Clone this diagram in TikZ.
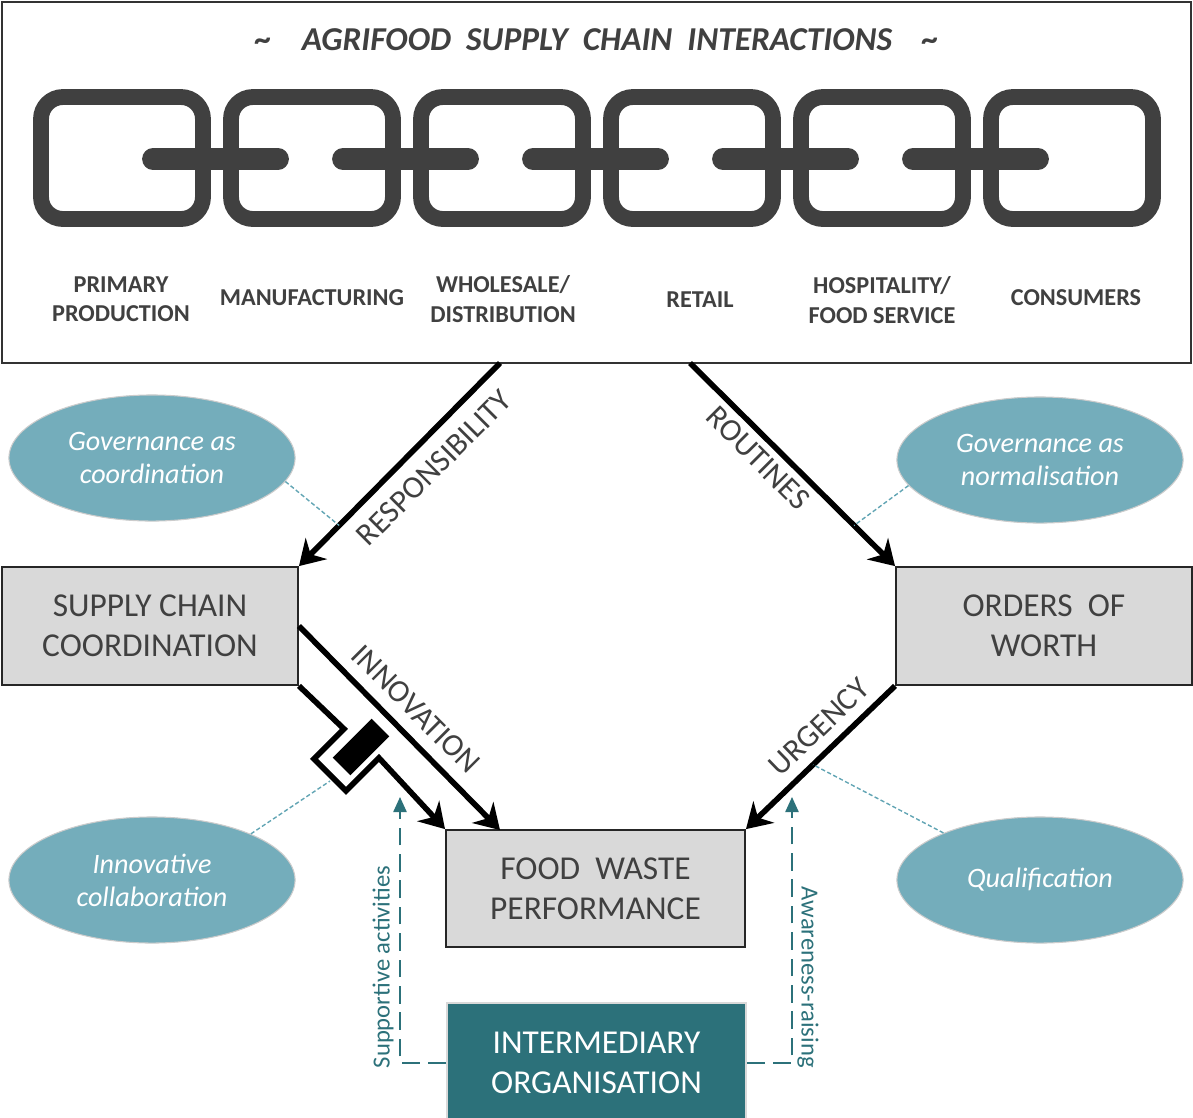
\documentclass[tikz,border=0pt]{standalone}
\usepackage{fontspec}
\setmainfont{Carlito}
\definecolor{chaingray}{RGB}{64,64,64}
\definecolor{boxgray}{RGB}{217,217,217}
\definecolor{ovalblue}{RGB}{116,173,187}
\definecolor{tealdark}{RGB}{44,113,122}
\definecolor{teallight}{RGB}{98,165,180}
\usetikzlibrary{arrows.meta,positioning,shapes.geometric,calc}

\begin{document}
\begin{tikzpicture}[
  x=0.01cm, y=-0.01cm,
  every node/.style={text=chaingray},
  chainlink/.style={draw=chaingray,line width=4.5pt,rounded corners=0.22cm},
  chainbar/.style={draw=chaingray,line width=6.2pt,line cap=round},
  stagelabel/.style={font=\fontsize{6.9}{8.3}\selectfont\bfseries,align=center},
  statebox/.style={draw=black!85,line width=0.5pt,fill=boxgray,minimum width=2.96cm,
                   minimum height=1.18cm,align=center,font=\fontsize{9.5}{11.4}\selectfont},
  lensoval/.style={ellipse,draw=black!20,line width=0.3pt,fill=ovalblue,minimum width=2.86cm,
                   minimum height=1.26cm,align=center,text=white,font=\fontsize{8}{9.4}\selectfont\itshape},
  flow/.style={line width=1.6pt,-{Stealth[length=7pt,width=8.5pt]}},
  flowlabel/.style={font=\fontsize{9}{11}\selectfont},
  leader/.style={teallight,line width=0.4pt,dash pattern=on 1.2pt off 0.7pt},
  support/.style={tealdark,line width=0.45pt,dash pattern=on 5pt off 2.5pt,
                  -{Triangle[length=4.3pt,width=3.8pt]}},
  supportlabel/.style={text=tealdark,font=\fontsize{7}{8}\selectfont},
]
  \useasboundingbox (0,0) rectangle (1193,1117);

  % Supply chain
  \node[draw=black!80,line width=0.5pt,minimum width=11.89cm,minimum height=3.61cm] (chainbox) at (596.5,182.5) {};
  \node[font=\fontsize{9.5}{12}\selectfont\bfseries\itshape] (title) at (597,40)
    {\textasciitilde\hspace{0.9em}AGRIFOOD\ \ SUPPLY\ \ CHAIN\ \ INTERACTIONS\hspace{0.9em}\textasciitilde};
  \foreach \i in {0,...,5}
    \draw[chainlink] ({41+190*\i},97) rectangle ({203+190*\i},219);
  \foreach \i in {0,...,4}
    \draw[chainbar] ({153+190*\i},159) -- ({278+190*\i},159);

  \node[stagelabel] (primary) at (121,299) {PRIMARY\\PRODUCTION};
  \node[stagelabel] (manuf) at (312,298) {MANUFACTURING};
  \node[stagelabel] (whole) at (503,299) {WHOLESALE/\\DISTRIBUTION};
  \node[stagelabel] (retail) at (700,300) {RETAIL};
  \node[stagelabel] (hosp) at (882,300) {HOSPITALITY/\\FOOD SERVICE};
  \node[stagelabel] (cons) at (1076,298) {CONSUMERS};

  % Mechanisms
  \node[statebox] (scc) at (150,626) {SUPPLY CHAIN\\COORDINATION};
  \node[statebox] (oow) at (1044,626) {ORDERS\ \ OF\\WORTH};
  \node[statebox,minimum width=2.99cm,minimum height=1.17cm] (fwp) at (595.5,888.5) {FOOD\ \ WASTE\\PERFORMANCE};
  \node[statebox,draw=black!15,fill=tealdark,text=white,minimum width=2.99cm,minimum height=1.2cm] (inter) at (596.5,1063)
    {INTERMEDIARY\\ORGANISATION};

  \coordinate (respstart) at (500,363);
  \coordinate (routstart) at (690,363);
  \coordinate (innovend) at (500,830);

  \draw[flow] (respstart) -- (scc.north east);
  \draw[flow] (routstart) -- (oow.north west);
  \draw[flow] (scc.east) -- (innovend);
  \draw[flow] (oow.south west) -- (fwp.north east);

  % broken link
  \draw[flow,line join=miter] (scc.south east) -- ++(45,43) -- ++(-30,30) -- ++(32,32) -- ++(33,-33) -- (fwp.north west);
  \node[fill=black,rotate=45,minimum width=0.55cm,minimum height=0.25cm,inner sep=0pt] (plug) at (361,747) {};
  \coordinate (plugcorner) at (330,781);

  \node[flowlabel,rotate=45] (resplabel) at (434,468) {RESPONSIBILITY};
  \node[flowlabel,rotate=-45] (routlabel) at (758,458) {ROUTINES};
  \node[flowlabel,rotate=-45] (innovlabel) at (416,709) {INNOVATION};
  \node[flowlabel,rotate=44] (urglabel) at (819,727) {URGENCY};

  % Governance lenses
  \node[lensoval] (govcoord) at (152,458) {Governance as\\coordination};
  \node[lensoval] (govnorm) at (1040,460) {Governance as\\normalisation};
  \node[lensoval] (collab) at (152,880) {Innovative\\collaboration};
  \node[lensoval] (qualif) at (1040,880) {Qualification};

  \draw[leader] (govcoord.-10) -- ($(respstart)!0.8!(scc.north east)$);
  \draw[leader] (govnorm.191) -- ($(routstart)!0.8!(oow.north west)$);
  \draw[leader] (collab.25) -- (plugcorner);
  \draw[leader] (qualif.154) -- ($(oow.south west)!0.55!(fwp.north east)$);

  % Intermediary
  \coordinate (suptip) at (400,797);
  \coordinate (awaretip) at (792,797);
  \draw[support] (inter.west) -| (suptip);
  \draw[support] (inter.east) -| (awaretip);
  \node[supportlabel,rotate=90] (suplabel) at (383,967) {Supportive activities};
  \node[supportlabel,rotate=-90] (awarelabel) at (808,977) {Awareness-raising};
\end{tikzpicture}
\end{document}
